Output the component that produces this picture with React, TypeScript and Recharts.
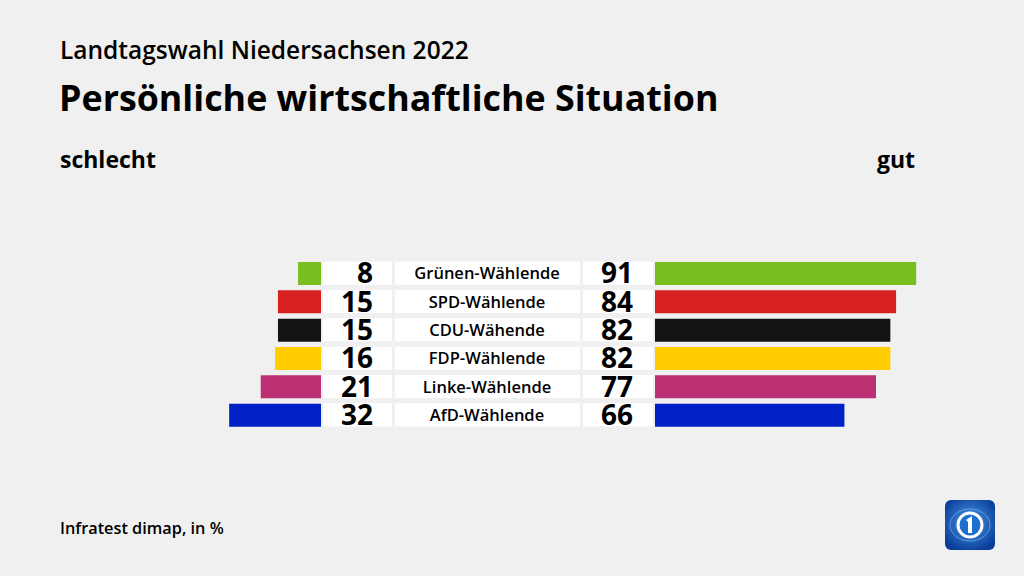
import React from 'react';
import { BarChart, Bar, XAxis, YAxis, Cell } from 'recharts';

const categories = ['Grünen-Wählende', 'SPD-Wählende', 'CDU-Wähende', 'FDP-Wählende', 'Linke-Wählende', 'AfD-Wählende'];
const schlechtValues = [8, 15, 15, 16, 21, 32];
const gutValues = [91, 84, 82, 82, 77, 66];
const partyColors = ['#78be1e', '#d7201f', '#141414', '#ffcc00', '#bc3174', '#0021c6'];

const data = categories.map((name, i) => ({ name, schlecht: schlechtValues[i], gut: gutValues[i] }));

const FONT = '"Open Sans", "Noto Sans", sans-serif';
const BG = '#f0f0f0';
const ROW_H = 23;

const MiddleTick = (props: any) => {
  const { y, index } = props;
  const d = data[index];
  if (!d) return null;
  const top = y - ROW_H / 2;
  return (
    <g>
      <rect x={0} y={top} width={69} height={ROW_H} fill="#ffffff" />
      <rect x={72} y={top} width={185} height={ROW_H} fill="#ffffff" />
      <rect x={260} y={top} width={70} height={ROW_H} fill="#ffffff" />
      <text x={50} y={y + 10} textAnchor="end" fontFamily={FONT} fontWeight={700} fontSize={28} fill="#000">
        {d.schlecht}
      </text>
      <text x={164} y={y + 6} textAnchor="middle" fontFamily={FONT} fontWeight={600} fontSize={16.5} fill="#000">
        {d.name}
      </text>
      <text x={310} y={y + 10} textAnchor="end" fontFamily={FONT} fontWeight={700} fontSize={28} fill="#000">
        {d.gut}
      </text>
    </g>
  );
};

const Logo = () => (
  <svg width={50} height={50} style={{ position: 'absolute', left: 945, top: 500 }}>
    <defs>
      <radialGradient id="lg" cx="50%" cy="45%" r="60%">
        <stop offset="0%" stopColor="#4a9be8" />
        <stop offset="100%" stopColor="#0a3d9a" />
      </radialGradient>
    </defs>
    <rect x={0} y={0} width={50} height={50} rx={6} fill="url(#lg)" />
    <ellipse cx={25} cy={25} rx={20} ry={16} fill="none" stroke="#7fc0f5" strokeWidth={1} opacity={0.6} />
    <circle cx={25} cy={25} r={12} fill="#1f6fd0" stroke="#ffffff" strokeWidth={3} />
    <path d="M21 20 L27 16 L27 33 L23 33 L23 22 Z" fill="#ffffff" />
  </svg>
);

export default function App() {
  return (
    <div style={{ position: 'absolute', left: 0, top: 0, width: 1024, height: 576, background: BG, overflow: 'hidden', fontFamily: FONT }}>
      <div style={{ position: 'absolute', left: 60, top: 33, fontSize: 24.5, fontWeight: 600, color: '#000', whiteSpace: 'nowrap' }}>
        Landtagswahl Niedersachsen 2022
      </div>
      <div style={{ position: 'absolute', left: 59, top: 73, fontSize: 35.8, fontWeight: 700, color: '#000', whiteSpace: 'nowrap' }}>
        Persönliche wirtschaftliche Situation
      </div>
      <div style={{ position: 'absolute', left: 60, top: 143, fontSize: 23, fontWeight: 700, color: '#000' }}>schlecht</div>
      <div style={{ position: 'absolute', right: 1024 - 915, top: 143, fontSize: 23, fontWeight: 700, color: '#000' }}>gut</div>

      <div style={{ position: 'absolute', left: 34, top: 259 }}>
        <BarChart width={287} height={170} data={data} layout="vertical" margin={{ top: 0, right: 0, bottom: 0, left: 0 }}>
          <XAxis type="number" domain={[0, 100]} reversed hide />
          <YAxis type="category" dataKey="name" hide />
          <Bar dataKey="schlecht" barSize={ROW_H} isAnimationActive={false}>
            {data.map((_, i) => (
              <Cell key={i} fill={partyColors[i]} />
            ))}
          </Bar>
        </BarChart>
      </div>

      <div style={{ position: 'absolute', left: 323, top: 259 }}>
        <BarChart width={332 + 287} height={170} data={data} layout="vertical" margin={{ top: 0, right: 0, bottom: 0, left: 0 }}>
          <XAxis type="number" domain={[0, 100]} hide />
          <YAxis
            type="category"
            dataKey="name"
            width={332}
            axisLine={false}
            tickLine={false}
            interval={0}
            tick={<MiddleTick />}
          />
          <Bar dataKey="gut" barSize={ROW_H} isAnimationActive={false}>
            {data.map((_, i) => (
              <Cell key={i} fill={partyColors[i]} />
            ))}
          </Bar>
        </BarChart>
      </div>

      <div style={{ position: 'absolute', left: 60, top: 517, fontSize: 16.3, fontWeight: 600, color: '#000' }}>
        Infratest dimap, in %
      </div>
      <Logo />
    </div>
  );
}
